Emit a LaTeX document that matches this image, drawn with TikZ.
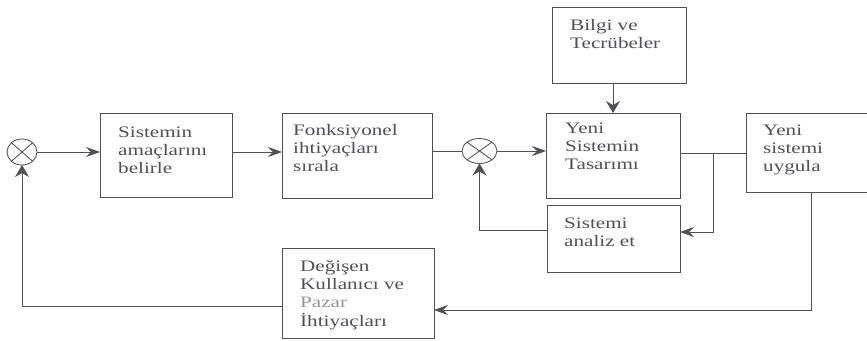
\documentclass[tikz,border=0pt]{standalone}
\usepackage{fontspec}
\setmainfont{Liberation Serif}[FakeStretch=1.32]
\usetikzlibrary{shapes.geometric,arrows.meta}
\definecolor{ln}{RGB}{80,80,85}
\definecolor{tx}{RGB}{80,80,85}
\definecolor{lt}{RGB}{150,150,150}
\newcommand{\fstrut}{\rule{0pt}{12pt}}
\tikzset{
  box/.style={draw=ln, line width=0.85pt, rectangle, inner sep=0pt, outer sep=0pt},
  sumj/.style={draw=ln, line width=0.85pt, ellipse, inner sep=0pt, outer sep=0pt},
  lbl/.style={anchor=north west, inner sep=0pt, align=left, text=tx,
    font=\fontsize{16}{18.3}\selectfont},
  con/.style={draw=ln, line width=0.85pt},
  harr/.style={con, -{Stealth[length=14pt,width=10pt,inset=5pt]}},
  varr/.style={con, -{Stealth[length=12pt,width=14pt,inset=4pt]}}
}
\begin{document}
\begin{tikzpicture}[x=1pt,y=-1pt]
\useasboundingbox (0,0) rectangle (867,340);
\clip (0,0) rectangle (867,340);
\fill[white] (0,0) rectangle (867,340);
% boxes
\node[box, minimum width=132pt, minimum height=84pt] (b1) at (166,155) {};
\node[box, minimum width=150pt, minimum height=85pt] (b2) at (357,155.5) {};
\node[box, minimum width=134pt, minimum height=76pt] (bil) at (619,45) {};
\node[box, minimum width=134pt, minimum height=85pt] (tas) at (613,155.5) {};
\node[box, minimum width=133pt, minimum height=67pt] (ana) at (613.5,238.5) {};
\node[box, minimum width=124pt, minimum height=79pt] (uyg) at (808,152.5) {};
\node[box, minimum width=152pt, minimum height=90pt] (deg) at (358,293) {};
% summing junctions
\node[sumj, minimum width=30pt, minimum height=26pt] (j1) at (22,152) {};
\node[sumj, minimum width=35pt, minimum height=25pt] (j2) at (479.5,151) {};
\draw[con] (j1.north east) -- (j1.south west) (j1.north west) -- (j1.south east);
\draw[con] (j2.north east) -- (j2.south west) (j2.north west) -- (j2.south east);
% texts
\node[lbl] (t1) at (118,125) {\fstrut Sistemin\\amaçlarını\\belirle};
\node[lbl] (t2) at (293,123) {\fstrut Fonksiyonel\\ihtiyaçları\\sırala};
\node[lbl] (tb) at (570,18) {\fstrut Bilgi ve\\Tecrübeler};
\node[lbl] (tt) at (565,121) {\fstrut Yeni\\Sistemin\\Tasarımı};
\node[lbl] (ta) at (564,216) {\fstrut Sistemi\\analiz et};
\node[lbl] (tu) at (763,123) {\fstrut Yeni\\sistemi\\uygula};
\node[lbl] (td) at (300,259) {\fstrut Değişen\\Kullanıcı ve\\{\color{lt}Pazar}\\İhtiyaçları};
% connectors
\draw[harr] (j1.east) -- (j1.east -| b1.west);
\draw[harr] (b1.east |- j1.center) -- (b2.west |- j1.center);
\draw[con] (b2.east |- j2.center) -- (j2.west);
\draw[harr] (j2.east) -- (j2.east -| tas.west);
\draw[varr] (tas.north |- bil.south) -- (tas.north);
\coordinate (br) at (713,153);
\coordinate (bb) at (713,232);
\draw[con] (tas.east |- br) -- (uyg.west |- br);
\draw[harr] (br) -- (bb) -- (bb -| ana.east);
\coordinate (fb) at (479.5,230);
\draw[varr] (fb -| ana.west) -- (fb) -- (j2.south);
\coordinate (ub) at (811,310);
\draw[harr] (ub |- uyg.south) -- (ub) -- (ub -| deg.east);
\coordinate (lb) at (22,306);
\draw[varr] (lb -| deg.west) -- (lb) -- (j1.south);
\end{tikzpicture}
\end{document}
